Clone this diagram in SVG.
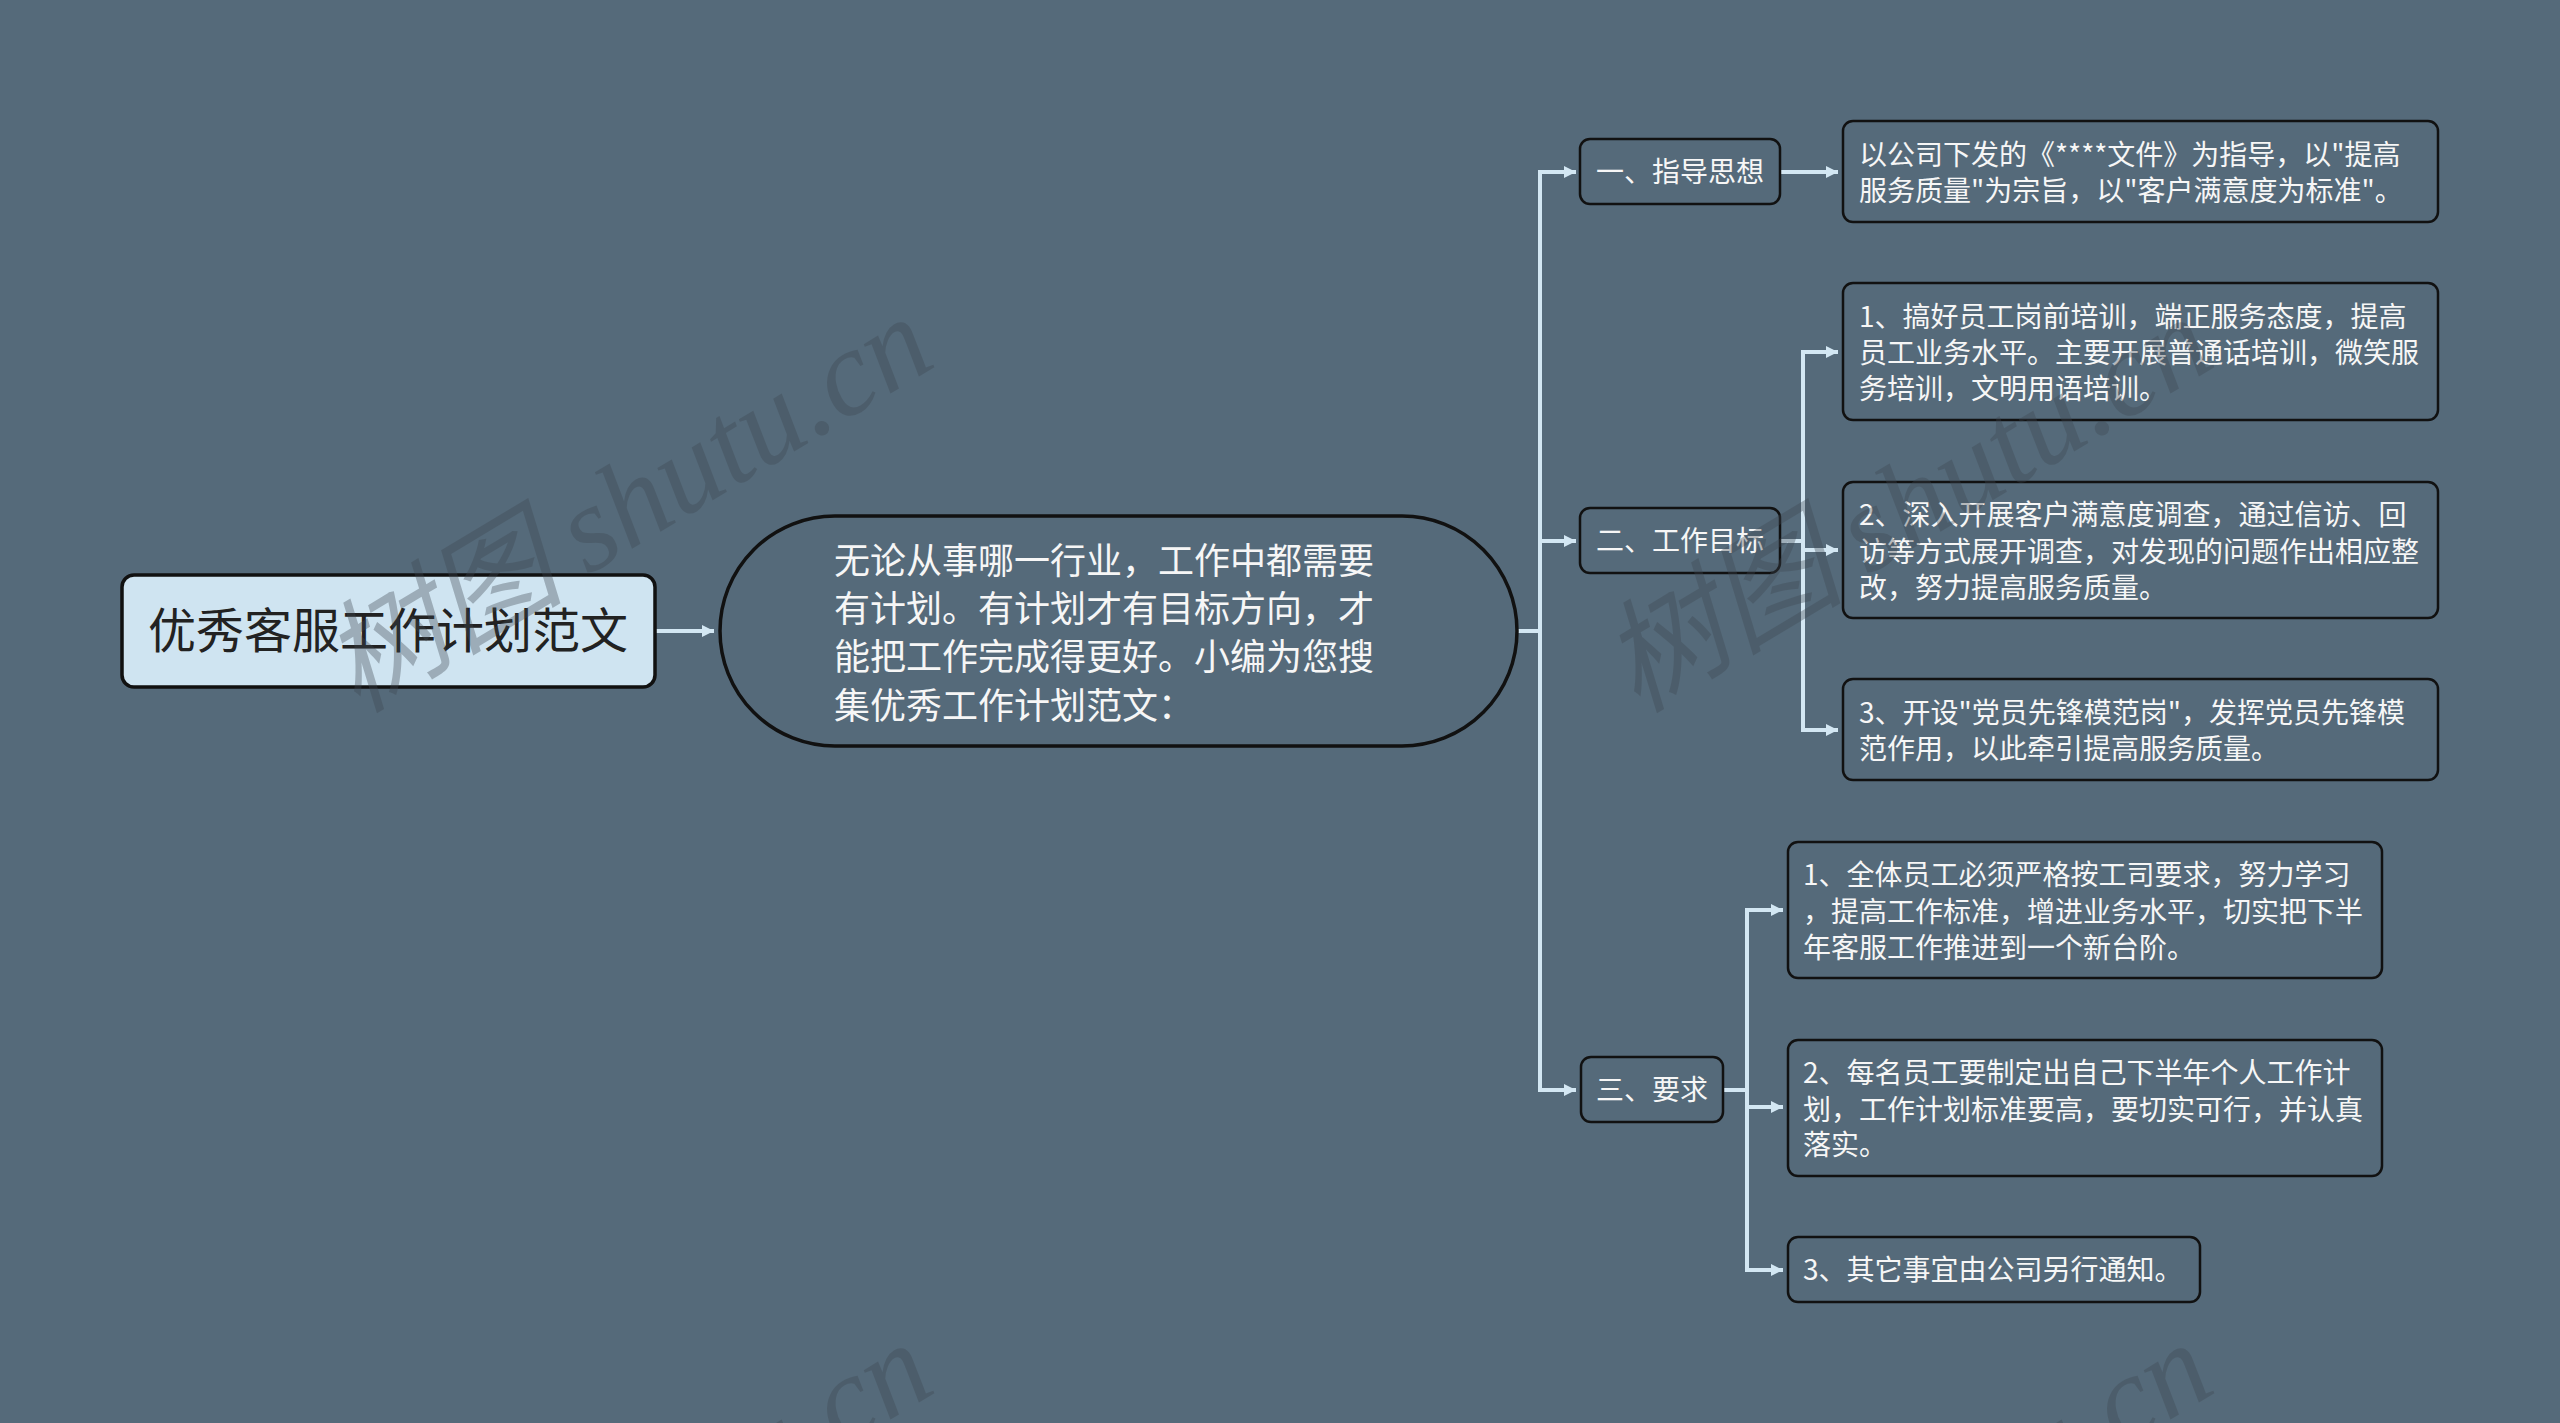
<svg xmlns="http://www.w3.org/2000/svg" width="2560" height="1423" viewBox="0 0 2560 1423">
<style>
.bg{fill:#556a7a}
.wm{font-family:"Liberation Serif","Noto Sans CJK SC",serif;font-style:italic;font-size:122px;fill:#3e4750;opacity:0.35}
.box{fill:#556a7a;stroke:#111;stroke-width:2.5}
.root{fill:#cfe4f1;stroke:#111;stroke-width:3.5}
.pill{fill:#556a7a;stroke:#111;stroke-width:3.5}
.t{font-family:"Noto Sans CJK SC","Noto Sans",sans-serif;fill:#f6f6f6;font-size:28px}
.tc{font-family:"Noto Sans CJK SC","Noto Sans",sans-serif;fill:#f6f6f6;font-size:36px}
.tr{font-family:"Noto Sans CJK SC","Noto Sans",sans-serif;fill:#222;font-size:48px}
.c{fill:none;stroke:#d3e7f3;stroke-width:4;marker-end:url(#ah)}
</style>
<defs>
<marker id="ah" markerUnits="userSpaceOnUse" markerWidth="14" markerHeight="14" refX="12" refY="7" orient="auto">
<path d="M0,1 L12,7 L0,13 z" fill="#d3e7f3"/>
</marker>
</defs>
<rect class="bg" x="0" y="0" width="2560" height="1423"/>
<g id="connectors">
<path class="c" d="M655,631 H714"/>
<path class="c" d="M1517,631 H1540 V172 H1576"/>
<path class="c" d="M1517,631 H1540 V541 H1576"/>
<path class="c" d="M1517,631 H1540 V1090 H1576"/>
<path class="c" d="M1780,172 H1838"/>
<path class="c" d="M1780,541 H1803 V352 H1838"/>
<path class="c" d="M1780,541 H1803 V550 H1838"/>
<path class="c" d="M1780,541 H1803 V730 H1838"/>
<path class="c" d="M1723,1090 H1747 V910 H1783"/>
<path class="c" d="M1723,1090 H1747 V1107 H1783"/>
<path class="c" d="M1723,1090 H1747 V1270 H1783"/>
</g>
<g id="root">
<rect class="root" x="122" y="575" width="533" height="112" rx="12"/>
<text class="tr" x="388" y="648" text-anchor="middle">优秀客服工作计划范文</text>
</g>
<g id="center">
<rect class="pill" x="720" y="516" width="797" height="230" rx="115"/>
<text class="tc" x="834" y="574">无论从事哪一行业，工作中都需要</text>
<text class="tc" x="834" y="622">有计划。有计划才有目标方向，才</text>
<text class="tc" x="834" y="670">能把工作完成得更好。小编为您搜</text>
<text class="tc" x="834" y="719">集优秀工作计划范文：</text>
</g>
<g id="n1">
<rect class="box" x="1580" y="139" width="200" height="65" rx="10"/>
<text class="t" x="1596" y="182">一、指导思想</text>
</g>
<g id="n2">
<rect class="box" x="1580" y="508" width="200" height="65" rx="10"/>
<text class="t" x="1596" y="551">二、工作目标</text>
</g>
<g id="n3">
<rect class="box" x="1581" y="1057" width="142" height="65" rx="10"/>
<text class="t" x="1596" y="1100">三、要求</text>
</g>
<g id="a1">
<rect class="box" x="1843" y="121" width="595" height="101" rx="10"/>
<text class="t" x="1859" y="165">以公司下发的《****文件》为指导，以"提高</text>
<text class="t" x="1859" y="201">服务质量"为宗旨，以"客户满意度为标准"。</text>
</g>
<g id="b1">
<rect class="box" x="1843" y="283" width="595" height="137" rx="10"/>
<text class="t" x="1859" y="327">1、搞好员工岗前培训，端正服务态度，提高</text>
<text class="t" x="1859" y="363">员工业务水平。主要开展普通话培训，微笑服</text>
<text class="t" x="1859" y="399">务培训，文明用语培训。</text>
</g>
<g id="b2">
<rect class="box" x="1843" y="482" width="595" height="136" rx="10"/>
<text class="t" x="1859" y="525">2、深入开展客户满意度调查，通过信访、回</text>
<text class="t" x="1859" y="562">访等方式展开调查，对发现的问题作出相应整</text>
<text class="t" x="1859" y="598">改，努力提高服务质量。</text>
</g>
<g id="b3">
<rect class="box" x="1843" y="679" width="595" height="101" rx="10"/>
<text class="t" x="1859" y="723">3、开设"党员先锋模范岗"，发挥党员先锋模</text>
<text class="t" x="1859" y="759">范作用，以此牵引提高服务质量。</text>
</g>
<g id="c1">
<rect class="box" x="1788" y="842" width="594" height="136" rx="10"/>
<text class="t" x="1803" y="885">1、全体员工必须严格按工司要求，努力学习</text>
<text class="t" x="1803" y="922">，提高工作标准，增进业务水平，切实把下半</text>
<text class="t" x="1803" y="958">年客服工作推进到一个新台阶。</text>
</g>
<g id="c2">
<rect class="box" x="1788" y="1040" width="594" height="136" rx="10"/>
<text class="t" x="1803" y="1083">2、每名员工要制定出自己下半年个人工作计</text>
<text class="t" x="1803" y="1120">划，工作计划标准要高，要切实可行，并认真</text>
<text class="t" x="1803" y="1155">落实。</text>
</g>
<g id="c3">
<rect class="box" x="1788" y="1237" width="412" height="65" rx="10"/>
<text class="t" x="1803" y="1280">3、其它事宜由公司另行通知。</text>
</g>
<g id="watermarks">
<text class="wm" transform="translate(357,714) rotate(-31)">树图<tspan dx="25">shutu.cn</tspan></text>
<text class="wm" transform="translate(1637,714) rotate(-31)">树图<tspan dx="25">shutu.cn</tspan></text>
<text class="wm" transform="translate(357,1740) rotate(-31)">树图<tspan dx="25">shutu.cn</tspan></text>
<text class="wm" transform="translate(1637,1740) rotate(-31)">树图<tspan dx="25">shutu.cn</tspan></text>
</g>
</svg>
